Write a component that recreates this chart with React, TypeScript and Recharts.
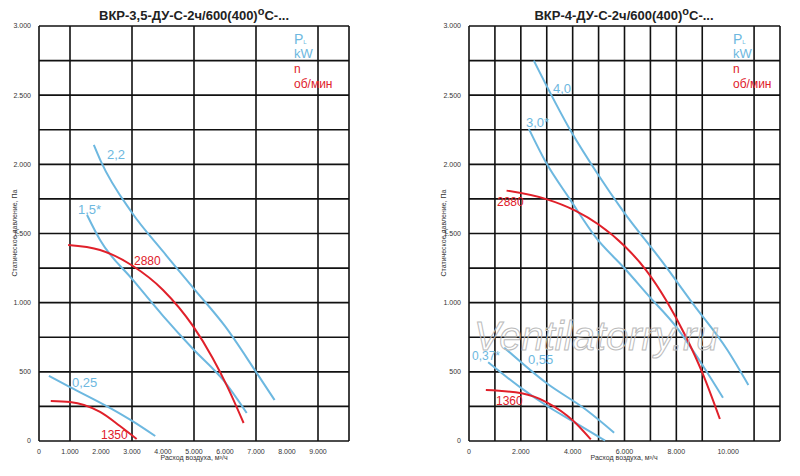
import React from 'react'
import { LineChart, Line, XAxis, YAxis, CartesianGrid } from 'recharts'

type Pt = { x: number; y: number }
const pts = (a: number[][]): Pt[] => a.map(([x, y]) => ({ x, y }))

// left chart: ВКР-3,5
const leftKw22 = pts([[1770, 2140], [2000, 2020], [3000, 1650], [4000, 1370], [5000, 1100], [6000, 830], [7000, 500], [7600, 296]])
const leftKw15 = pts([[1550, 1634], [1970, 1453], [3030, 1164], [4000, 905], [4970, 665], [5940, 441], [6700, 202]])
const leftRpm2880 = pts([[940, 1417], [1970, 1381], [3030, 1265], [4000, 1092], [4970, 830], [5600, 600], [6060, 400], [6600, 130]])
const leftKw025 = pts([[320, 470], [1000, 390], [2300, 238], [3030, 142], [3750, 36]])
const leftRpm1350 = pts([[380, 289], [1000, 282], [1970, 210], [2600, 110], [3150, 14]])

// right chart: ВКР-4
const rightKw40 = pts([[2500, 2750], [3940, 2237], [4940, 1937], [5960, 1658], [7440, 1300], [8630, 995], [9970, 658], [10780, 405]])
const rightKw30 = pts([[2310, 2256], [2950, 2020], [3910, 1743], [4900, 1470], [6000, 1249], [6960, 1044], [7990, 827], [8880, 586], [9800, 313]])
const rightRpm2880 = pts([[1450, 1810], [2950, 1750], [4100, 1665], [5000, 1565], [6000, 1410], [6830, 1236], [7600, 1020], [8370, 754], [9010, 491], [9680, 159]])
const rightKw037 = pts([[740, 569], [2030, 380], [3000, 255], [4030, 140], [5250, 2]])
const rightKw055 = pts([[1360, 675], [3000, 417], [4530, 224], [5600, 60]])
const rightRpm1360 = pts([[650, 369], [2030, 345], [3000, 280], [4030, 145], [4700, 12]])

const yTicks = [0, 250, 500, 750, 1000, 1250, 1500, 1750, 2000, 2250, 2500, 2750, 3000]
const leftXTicks = [0, 1000, 2000, 3000, 4000, 5000, 6000, 7000, 8000, 9000, 10000]
const rightXTicks = [0, 1000, 2000, 3000, 4000, 5000, 6000, 7000, 8000, 9000, 10000, 11000, 12000]

const BLUE = '#6db8e0'
const RED = '#e0202a'
const FONT = '"Liberation Sans Narrow", "Liberation Sans", Arial, sans-serif'

const fmt = (v: number) => (v === 0 ? '0' : v.toLocaleString('de-DE'))

const abs = (left: number, top: number, color: string, size = 12, extra: React.CSSProperties = {}): React.CSSProperties => ({
  position: 'absolute', left, top, color, fontSize: size, fontFamily: FONT, lineHeight: 1, whiteSpace: 'nowrap', ...extra,
})

interface PanelProps {
  left: number
  yWidth: number
  right: number
  xMax: number
  xTicks: number[]
  xStep: number
  blue: Pt[][]
  red: Pt[][]
}

const Panel: React.FC<PanelProps> = ({ left, yWidth, right, xMax, xTicks, xStep, blue, red }) => (
  <div style={{ position: 'absolute', left, top: 0 }}>
    <LineChart width={400} height={476} margin={{ top: 26, right, bottom: 20, left: 0 }}>
      <CartesianGrid stroke="#111" strokeWidth={1.6} />
      <XAxis type="number" dataKey="x" domain={[0, xMax]} ticks={xTicks} allowDataOverflow height={15}
        tickFormatter={(v: number) => (v % xStep === 0 && v < xMax ? fmt(v) : '')}
        axisLine={false} tickLine={false} tickMargin={2} tick={{ fontSize: 7, fill: '#333', fontFamily: FONT }} />
      <YAxis type="number" domain={[0, 3000]} ticks={yTicks} width={yWidth}
        tickFormatter={(v: number) => (v % 500 === 0 ? fmt(v) : '')}
        axisLine={false} tickLine={false} tick={{ fontSize: 7, fill: '#333', fontFamily: FONT }} />
      {blue.map((d, i) => (
        <Line key={'b' + i} data={d} dataKey="y" type="monotoneX" stroke={BLUE} strokeWidth={2} dot={false} isAnimationActive={false} />
      ))}
      {red.map((d, i) => (
        <Line key={'r' + i} data={d} dataKey="y" type="monotoneX" stroke={RED} strokeWidth={2} dot={false} isAnimationActive={false} />
      ))}
    </LineChart>
  </div>
)

const Legend: React.FC<{ x: number }> = ({ x }) => (
  <>
    <div style={abs(x, 32, BLUE, 14)}>P<span style={{ fontSize: 6 }}>L</span></div>
    <div style={abs(x, 47, BLUE, 13)}>kW</div>
    <div style={abs(x, 63, RED, 12)}>n</div>
    <div style={abs(x, 78, RED, 12)}>об/мин</div>
  </>
)

const YLabel: React.FC<{ x: number }> = ({ x }) => (
  <div style={abs(x, 233, '#333', 7, { transform: 'translate(-50%,-50%) rotate(-90deg)' })}>Статическое давление, Па</div>
)

export default function App() {
  return (
    <div style={{ position: 'absolute', left: 0, top: 0, width: 800, height: 476, background: '#fff', overflow: 'hidden' }}>
      <Panel left={0} yWidth={39} right={51} xMax={10000} xTicks={leftXTicks} xStep={1000}
        blue={[leftKw22, leftKw15, leftKw025]} red={[leftRpm2880, leftRpm1350]} />
      <Panel left={400} yWidth={69} right={20} xMax={12000} xTicks={rightXTicks} xStep={2000}
        blue={[rightKw40, rightKw30, rightKw037, rightKw055]} red={[rightRpm2880, rightRpm1360]} />

      <div style={abs(194, 6, '#222', 13, { fontWeight: 'bold', transform: 'translateX(-50%)' })}>ВКР-3,5-ДУ-С-2ч/600(400)<sup style={{ fontSize: 11 }}>о</sup>С-...</div>
      <div style={abs(624, 6, '#222', 13, { fontWeight: 'bold', transform: 'translateX(-50%)' })}>ВКР-4-ДУ-С-2ч/600(400)<sup style={{ fontSize: 11 }}>о</sup>С-...</div>

      <Legend x={294} />
      <Legend x={733} />
      <YLabel x={14} />
      <YLabel x={443} />
      <div style={abs(194, 454, '#333', 7, { transform: 'translateX(-50%)' })}>Расход воздуха, м³/ч</div>
      <div style={abs(624, 454, '#333', 7, { transform: 'translateX(-50%)' })}>Расход воздуха, м³/ч</div>

      <div style={abs(107, 148, BLUE, 13)}>2,2</div>
      <div style={abs(78, 203, BLUE, 13)}>1,5*</div>
      <div style={abs(134, 255, RED, 12)}>2880</div>
      <div style={abs(72, 376, BLUE, 13)}>0,25</div>
      <div style={abs(101, 429, RED, 12)}>1350</div>

      <div style={abs(553, 82, BLUE, 13)}>4,0</div>
      <div style={abs(526, 116, BLUE, 13)}>3,0*</div>
      <div style={abs(497, 196, RED, 12)}>2880</div>
      <div style={abs(472, 350, BLUE, 12)}>0,37*</div>
      <div style={abs(528, 353, BLUE, 13)}>0,55</div>
      <div style={abs(496, 395, RED, 12)}>1360</div>

      <div style={abs(474, 316, 'transparent', 40, { fontStyle: 'italic', fontFamily: '"Liberation Sans", Arial, sans-serif', WebkitTextStroke: '1px #bbb' })}>Ventilatorry.ru</div>
    </div>
  )
}
